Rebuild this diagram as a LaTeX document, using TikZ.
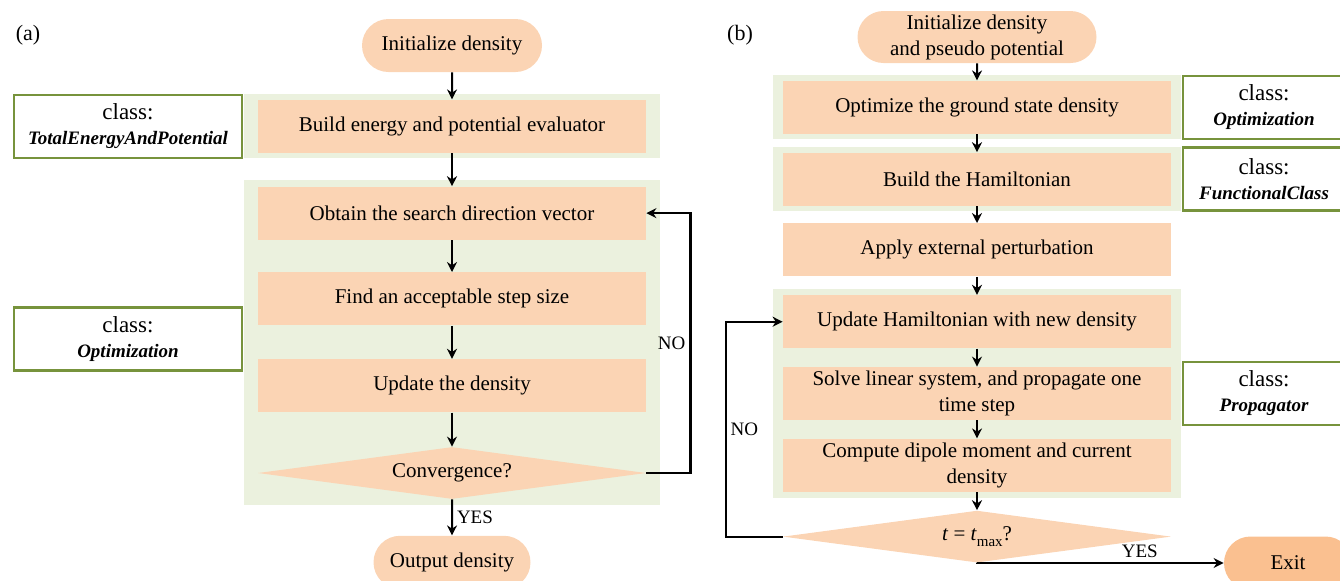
\documentclass[tikz,border=0pt]{standalone}
\usepackage{fontspec}
\setmainfont{Liberation Serif}
\definecolor{peach}{HTML}{FBD4B4}
\definecolor{paleolive}{HTML}{EBF1DE}
\definecolor{olivedark}{HTML}{77933C}
\definecolor{exitorange}{HTML}{FAC090}
\usetikzlibrary{shapes.geometric, shapes.misc, arrows.meta, positioning, fit, backgrounds}

\begin{document}
\begin{tikzpicture}[
    x=0.5pt, y=-0.5pt,
    font=\fontsize{10.5}{13}\selectfont,
    proc/.style={fill=peach, minimum width=194pt, minimum height=26.5pt,
                 inner sep=1pt, align=center},
    term/.style={rounded rectangle, fill=peach, minimum height=26.5pt,
                 inner sep=1pt, align=center},
    decide/.style={diamond, aspect=7.5, fill=peach, minimum width=194pt,
                   minimum height=26pt, inner sep=0pt},
    band/.style={fill=paleolive, inner xsep=7pt, inner ysep=2.5pt},
    cls/.style={draw=olivedark, line width=1.25pt, fill=white,
                minimum height=31.5pt, inner sep=1pt, align=center,
                font=\fontsize{11.5}{12.5}\selectfont},
    arr/.style={-{Stealth[length=5pt, width=5pt]}, line width=1pt},
    lbl/.style={font=\fontsize{9.5}{11}\selectfont, inner sep=2pt}
  ]
  \path[use as bounding box, clip] (0,0) rectangle (1340,580);

  % (a) ground state optimization
  \node[font=\fontsize{11}{13}\selectfont] (tagA) at (28,35) {(a)};
  \node[term, minimum width=92pt] (initA) at (452,45.5) {Initialize density};
  \node[proc, below=13.5pt of initA] (build) {Build energy and potential evaluator};
  \node[proc, below=16.5pt of build] (obtain) {Obtain the search direction vector};
  \node[proc, below=16pt of obtain] (stepsize) {Find an acceptable step size};
  \node[proc, below=16.5pt of stepsize] (update) {Update the density};
  \node[decide, below=17pt of update] (conv) {Convergence?};
  \node[term, minimum width=80.5pt, below=18pt of conv] (output) {Output density};

  \begin{scope}[on background layer]
    \node[band, fit=(build)] (bandA1) {};
    \node[band, inner ysep=3pt, fit=(obtain)(conv)] (bandA2) {};
  \end{scope}

  \node[cls, minimum width=114pt, left=0pt of bandA1] (clsA1)
    {class:\\{\fontsize{9.5}{12.5}\selectfont\bfseries\itshape TotalEnergyAndPotential}};
  \node[cls, minimum width=114pt, left=0pt of bandA2, yshift=2pt] (clsA2)
    {class:\\{\fontsize{9.5}{12.5}\selectfont\bfseries\itshape Optimization}};

  \draw[arr] (initA) -- (build);
  \draw[arr] (build) -- (obtain);
  \draw[arr] (obtain) -- (stepsize);
  \draw[arr] (stepsize) -- (update);
  \draw[arr] (update) -- (conv);
  \draw[arr] (conv) -- node[lbl, right] {YES} (output);
  \draw[arr, line width=1.1pt] (conv.east) -- ++(44,0)
    |- node[lbl, pos=0.25, left] {NO} (obtain.east);

  % (b) real-time propagation
  \node[font=\fontsize{11}{13}\selectfont] (tagB) at (740,35) {(b)};
  \node[term, minimum width=121.5pt, minimum height=26pt] (initB) at (977,37)
    {Initialize density\\and pseudo potential};
  \node[proc, below=8.5pt of initB] (ground) {Optimize the ground state density};
  \node[proc, below=9pt of ground] (hamilton) {Build the Hamiltonian};
  \node[proc, below=8.5pt of hamilton] (perturb) {Apply external perturbation};
  \node[proc, below=9pt of perturb] (renew) {Update Hamiltonian with new density};
  \node[proc, below=9pt of renew] (propagate)
    {Solve linear system, and propagate one\\time step};
  \node[proc, below=9pt of propagate] (dipole)
    {Compute dipole moment and current\\density};
  \node[decide, below=9pt of dipole] (tmax)
    {\textit{t} = \textit{t}\raisebox{-0.7ex}{\fontsize{7.5}{8}\selectfont max}?};
  \node[term, fill=exitorange, minimum width=66pt] (exit) at (1288,563) {Exit};

  \begin{scope}[on background layer]
    \node[band, inner xsep=5pt, fit=(ground)] (bandB1) {};
    \node[band, inner xsep=5pt, fit=(hamilton)] (bandB2) {};
    \node[band, inner xsep=5pt, inner ysep=3pt, fit=(renew)(dipole)] (bandB3) {};
  \end{scope}

  \node[cls, minimum width=81pt, right=0pt of bandB1] (clsB1)
    {class:\\{\fontsize{9.5}{12.5}\selectfont\bfseries\itshape Optimization}};
  \node[cls, minimum width=81pt, right=0pt of bandB2] (clsB2)
    {class:\\{\fontsize{9.5}{12.5}\selectfont\bfseries\itshape FunctionalClass}};
  \node[cls, minimum width=81pt, right=0pt of bandB3] (clsB3)
    {class:\\{\fontsize{9.5}{12.5}\selectfont\bfseries\itshape Propagator}};

  \draw[arr] (initB) -- (ground);
  \draw[arr] (ground) -- (hamilton);
  \draw[arr] (hamilton) -- (perturb);
  \draw[arr] (perturb) -- (renew);
  \draw[arr] (renew) -- (propagate);
  \draw[arr] (propagate) -- (dipole);
  \draw[arr] (dipole) -- (tmax);
  \draw[arr, line width=1.1pt] (tmax.west) -- ++(-57,0)
    |- node[lbl, pos=0.25, right] {NO} (renew.west);
  \draw[arr, line width=1.1pt] (tmax.south)
    |- node[lbl, pos=0.83, above] {YES} (exit.west);
\end{tikzpicture}
\end{document}
